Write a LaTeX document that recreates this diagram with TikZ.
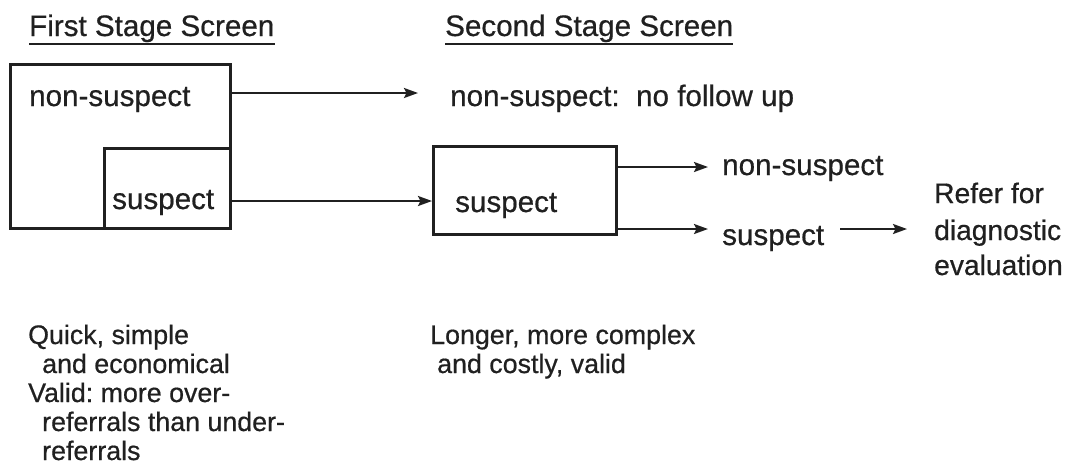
\documentclass[tikz,border=0pt]{standalone}
\usepackage{fontspec}
\setmainfont[FakeBold=0.6]{Liberation Sans}
\usetikzlibrary{arrows.meta}
\definecolor{ink}{HTML}{202020}
\frenchspacing
\begin{document}
\begin{tikzpicture}[x=1pt,y=-1pt,
  txt/.style={inner sep=0pt, anchor=base west, text=ink,
    font=\fontsize{29.6}{29.6}\selectfont},
  note/.style={txt, font=\fontsize{26.8}{26.8}\selectfont},
  refer/.style={txt, font=\fontsize{28.2}{28.2}\selectfont},
  box/.style={draw=ink, line width=2.5pt, inner sep=0pt},
  arr/.style={draw=ink, line width=2.2pt,
    -{Stealth[length=14pt,width=10pt,inset=2.5pt]}},
  uline/.style={draw=ink, line width=1.9pt},
]
\useasboundingbox (0,0) rectangle (1070,467);

% column headings
\node[txt] (h1) at (29,36) {First Stage Screen};
\node[txt] (h2) at (445,36) {Second Stage Screen};
\draw[uline] ([yshift=-1.5pt]h1.south west) -- ([yshift=-1.5pt]h1.south east);
\draw[uline] ([yshift=-1.5pt]h2.south west) -- ([yshift=-1.5pt]h2.south east);

% first stage screen
\node[box, anchor=north west, minimum width=220pt, minimum height=164pt] (fs) at (9,63) {};
\node[box, anchor=south east, minimum width=126pt, minimum height=80pt] (fss) at (fs.south east) {};
\node[txt] (ns1) at (29,106) {non-suspect};
\node[txt] (s1) at (112,209) {suspect};

% second stage screen
\node[box, anchor=north west, minimum width=183pt, minimum height=88pt] (ss) at (432,145) {};
\node[txt] (nfu) at (450,106) {non-suspect:\ \ no follow up};
\node[txt] (s2) at (455,212) {suspect};
\node[txt] (ns3) at (722,175) {non-suspect};
\node[txt] (s3) at (722,245) {suspect};

% referral
\node[refer] (r1) at (934,203) {Refer for};
\node[refer] (r2) at (934,240) {diagnostic};
\node[refer] (r3) at (934,275) {evaluation};

% arrow end points
\coordinate (a1) at (418,93);
\coordinate (a2) at (432,201);
\coordinate (a3) at (708,167);
\coordinate (a4) at (708,229);
\coordinate (a5s) at (840,229);
\coordinate (a5) at (907,229);

\draw[arr] (fs.east |- a1) -- (a1);
\draw[arr] (fss.east |- a2) -- (a2);
\draw[arr] (ss.east |- a3) -- (a3);
\draw[arr] (ss.east |- a4) -- (a4);
\draw[arr] (a5s) -- (a5);

% notes
\node[note] (q1) at (28,344) {Quick, simple};
\node[note] (q2) at (42,373) {and economical};
\node[note] (q3) at (28,402) {Valid: more over-};
\node[note] (q4) at (42,431) {referrals than under-};
\node[note] (q5) at (42,460) {referrals};

\node[note] (l1) at (430,344) {Longer, more complex};
\node[note] (l2) at (437,373) {and costly, valid};
\end{tikzpicture}
\end{document}
